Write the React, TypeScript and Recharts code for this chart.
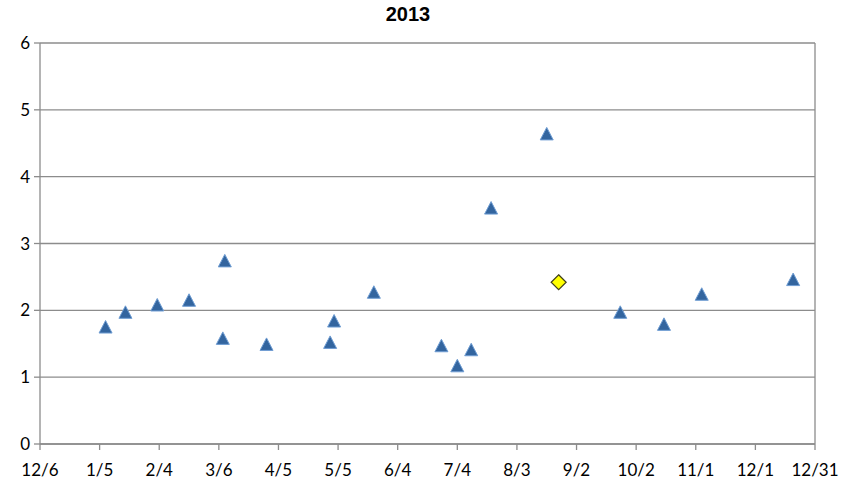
import { ScatterChart, Scatter, XAxis, YAxis, CartesianGrid, ReferenceLine } from 'recharts';

// x = days since 12/6/2012
const tickDays = [0, 30, 60, 90, 120, 150, 180, 210, 240, 270, 300, 330, 360, 390];
const tickLabels = ['12/6', '1/5', '2/4', '3/6', '4/5', '5/5', '6/4', '7/4', '8/3', '9/2', '10/2', '11/1', '12/1', '12/31'];
const yTicks = [0, 1, 2, 3, 4, 5, 6];

const sampleDays = [33, 43, 59, 75, 93, 92, 114, 146, 148, 168, 202, 210, 217, 227, 255, 292, 314, 333, 379];
const sampleValues = [1.75, 1.97, 2.08, 2.15, 2.74, 1.58, 1.49, 1.52, 1.84, 2.27, 1.47, 1.17, 1.41, 3.53, 4.64, 1.97, 1.79, 2.24, 2.46];

const highlightDays = [261];
const highlightValues = [2.42];

const samples = sampleDays.map((d, i) => ({ day: d, value: sampleValues[i] }));
const highlight = highlightDays.map((d, i) => ({ day: d, value: highlightValues[i] }));

const gridColor = '#8c8c8c';
const tickFont = { fontSize: 17, fill: '#000', fontFamily: 'Lato, sans-serif' };

const Triangle = (props: any) => {
  const { cx, cy } = props;
  if (cx == null || cy == null) return null;
  const pts = `${cx},${cy - 6.5} ${cx + 6.5},${cy + 6} ${cx - 6.5},${cy + 6}`;
  return <polygon points={pts} fill="#33659f" stroke="#6f9dd3" strokeWidth={1} />;
};

const Diamond = (props: any) => {
  const { cx, cy } = props;
  if (cx == null || cy == null) return null;
  const r = 7.5;
  const pts = `${cx},${cy - r} ${cx + r},${cy} ${cx},${cy + r} ${cx - r},${cy}`;
  return <polygon points={pts} fill="#ffff00" stroke="#3f3f1a" strokeWidth={1.2} />;
};

export default function App() {
  return (
    <div style={{ position: 'absolute', left: 0, top: 0, width: 842, height: 487, background: '#fff' }}>
      <div
        style={{
          position: 'absolute',
          left: 408,
          top: 3,
          transform: 'translateX(-50%)',
          fontFamily: '"Liberation Sans", Arial, sans-serif',
          fontWeight: 'bold',
          fontSize: 20,
          color: '#000',
        }}
      >
        2013
      </div>
      <ScatterChart width={842} height={487} margin={{ top: 43, right: 27, bottom: 0, left: 10 }}>
        <CartesianGrid vertical={false} stroke={gridColor} strokeWidth={1.3} />
        <XAxis
          type="number"
          dataKey="day"
          domain={[0, 390]}
          ticks={tickDays}
          interval={0}
          height={43}
          tickSize={6}
          tickMargin={14}
          tickFormatter={(v: number) => tickLabels[Math.round(v / 30)]}
          axisLine={{ stroke: gridColor, strokeWidth: 1.3 }}
          tickLine={{ stroke: gridColor, strokeWidth: 1.3 }}
          tick={tickFont}
        />
        <YAxis
          type="number"
          dataKey="value"
          domain={[0, 6]}
          ticks={yTicks}
          interval={0}
          width={30}
          tickSize={6}
          tickMargin={4}
          axisLine={{ stroke: gridColor, strokeWidth: 1.3 }}
          tickLine={{ stroke: gridColor, strokeWidth: 1.3 }}
          tick={tickFont}
        />
        <ReferenceLine x={390} stroke={gridColor} strokeWidth={1.3} />
        <Scatter data={samples} shape={<Triangle />} isAnimationActive={false} />
        <Scatter data={highlight} shape={<Diamond />} isAnimationActive={false} />
      </ScatterChart>
    </div>
  );
}
